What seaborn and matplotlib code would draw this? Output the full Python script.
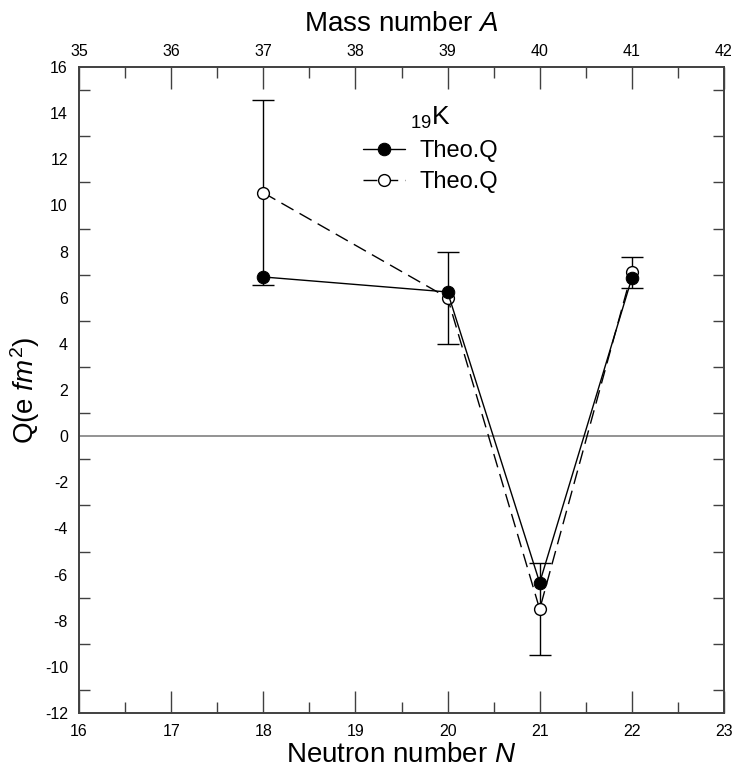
import matplotlib
matplotlib.use("Agg")
import matplotlib.pyplot as plt
import seaborn as sns
import pandas as pd
from matplotlib.ticker import MultipleLocator

# Neutron number, mass number labels and quadrupole moments of potassium isotopes
neutron_n = [18, 20, 21, 22]
theo_q_filled = [6.9, 6.25, -6.35, 6.85]
theo_q_open = [10.55, 6.0, -7.5, 7.1]
q_err = [4.0, 2.0, 2.0, 0.68]
mass_ticks = [35, 36, 37, 38, 39, 40, 41, 42]

sns.set_style("white")
plt.rcParams["font.family"] = ["Liberation Sans", "DejaVu Sans"]
plt.rcParams["mathtext.fontset"] = "custom"
plt.rcParams["mathtext.rm"] = "Liberation Sans"
plt.rcParams["mathtext.it"] = "Liberation Sans:italic"
plt.rcParams["axes.unicode_minus"] = False
for key in ("text.color", "axes.labelcolor", "xtick.labelcolor", "ytick.labelcolor"):
    plt.rcParams[key] = "black"

df = pd.DataFrame({"N": neutron_n, "filled": theo_q_filled,
                   "open": theo_q_open, "err": q_err})

fig = plt.figure(figsize=(7.32, 7.73), dpi=100)
ax = fig.add_axes([0.108, 0.0776, 0.881, 0.8357])

axis_col = "#404040"
ax.axhline(0, color="#808080", lw=1.2, zorder=1)

ax.errorbar(df["N"], df["open"], yerr=df["err"], fmt="none",
            ecolor="black", elinewidth=1.0, capsize=8, capthick=1.0, zorder=2)

sns.lineplot(data=df, x="N", y="filled", ax=ax, color="black", lw=1.0,
             marker="o", markersize=9, markerfacecolor="black",
             markeredgecolor="black", label="Theo.Q", zorder=4)
sns.lineplot(data=df, x="N", y="open", ax=ax, color="black", lw=1.0,
             linestyle=(0, (10, 5)), marker="o", markersize=8.5,
             markerfacecolor="white", markeredgecolor="black",
             markeredgewidth=1.0, label="Theo.Q", zorder=3)

ax.set_xlim(16, 23)
ax.set_ylim(-12, 16)
ax.xaxis.set_major_locator(MultipleLocator(1))
ax.xaxis.set_minor_locator(MultipleLocator(0.5))
ax.yaxis.set_major_locator(MultipleLocator(2))
ax.set_yticks(range(-11, 16, 2), minor=True)

ax.tick_params(axis="x", which="major", direction="in", length=16, width=1.0,
               color=axis_col, labelsize=11.5, labelcolor="black", pad=8, top=False)
ax.tick_params(axis="x", which="minor", direction="in", length=8, width=1.0,
               color=axis_col, top=False)
ax.tick_params(axis="y", which="major", length=0, labelsize=11.5,
               labelcolor="black", pad=8)
ax.tick_params(axis="y", which="minor", direction="in", length=8, width=1.0,
               color=axis_col, left=True, right=True)

for s in ax.spines.values():
    s.set_color(axis_col)
    s.set_linewidth(1.2)

ax.set_xlabel("Neutron number $N$", fontsize=20, labelpad=2, color="black")
ax.set_ylabel("Q(e $fm^2$)", fontsize=20, color="black")
ax.yaxis.set_label_coords(-0.057, 0.5)

# mass number scale along the top edge
ax2 = ax.twiny()
ax2.set_xlim(mass_ticks[0], mass_ticks[-1])
ax2.set_xticks(mass_ticks)
ax2.xaxis.set_minor_locator(MultipleLocator(0.5))
ax2.tick_params(axis="x", which="major", direction="in", length=16, width=1.0,
                color=axis_col, labelsize=11.5, labelcolor="black", pad=6)
ax2.tick_params(axis="x", which="minor", direction="in", length=8, width=1.0,
                color=axis_col)
ax2.set_xlabel("Mass number $A$", fontsize=20, labelpad=9, color="black")
for s in ax2.spines.values():
    s.set_color(axis_col)
    s.set_linewidth(1.2)

leg = ax.legend(loc="upper left", bbox_to_anchor=(0.425, 0.956), frameon=False,
                fontsize=17, title="$_{19}$K", title_fontsize=19,
                handlelength=1.8, handletextpad=0.6, labelspacing=0.38,
                borderaxespad=0)
for t in leg.get_texts():
    t.set_color("black")
leg.get_title().set_color("black")

fig.savefig("out.png", dpi=100)
